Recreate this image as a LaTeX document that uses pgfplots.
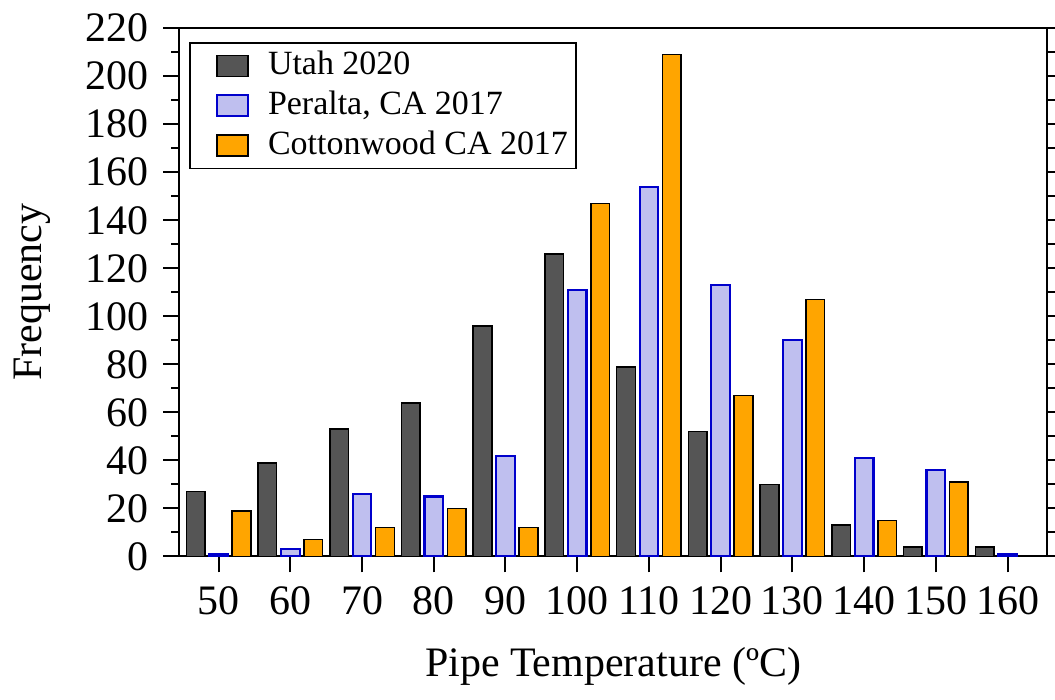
\documentclass[border=0pt]{standalone}
\usepackage{fontspec}
\setmainfont{Liberation Serif}
\usepackage{pgfplots}
\pgfplotsset{compat=1.18}
\definecolor{utah}{HTML}{555555}
\definecolor{peralta}{HTML}{BFBFEF}
\definecolor{peraltaedge}{HTML}{0000CC}
\definecolor{cotton}{HTML}{FFA500}
\begin{document}
\fontsize{21}{25}\selectfont
\begin{tikzpicture}[trim right=(R)]
\begin{axis}[
  scale only axis, width=434.5pt, height=264.5pt,
  xmin=44.5, xmax=165.5, ymin=0, ymax=220,
  axis line style={line width=1pt},
  every tick/.style={line width=1pt, black},
  xtick={50,60,...,160},
  ytick={0,20,...,220}, minor y tick num=1,
  tick align=outside,
  xtick pos=bottom, ytick pos=both,
  major tick length=8pt, minor tick length=4pt,
  /pgf/number format/assume math mode=true,
  tick label style={font=\fontsize{21}{25}\selectfont},
  xlabel={Pipe Temperature (ºC)},
  ylabel={Frequency},
  label style={font=\fontsize{21}{25}\selectfont},
  xlabel style={yshift=-2pt},
  ylabel style={yshift=3.5pt},
  legend cell align=left,
  legend style={at={(0,1)}, anchor=north west, xshift=5pt, yshift=-7pt,
    draw=black, line width=0.8pt, font=\fontsize{17}{20}\selectfont,
    inner xsep=2pt, inner ysep=2pt, row sep=1pt},
  legend image code/.code={\draw[#1, line width=0.8pt] (11pt,-5.25pt) rectangle (26.5pt,5.25pt); \path (0pt,0pt) (34pt,0pt);},
]
\addplot[ybar, bar width=2.6, bar shift=-3.2, fill=utah, draw=black, line width=0.8pt] coordinates {
(50,27) (60,39) (70,53) (80,64) (90,96) (100,126) (110,79) (120,52) (130,30) (140,13) (150,4) (160,4)};
\addlegendentry{Utah 2020}
\addplot[ybar, bar width=2.6, bar shift=0, fill=peralta, draw=peraltaedge, line width=1.1pt] coordinates {
(50,1) (60,3) (70,26) (80,25) (90,42) (100,111) (110,154) (120,113) (130,90) (140,41) (150,36) (160,1)};
\addlegendentry{Peralta, CA 2017}
\addplot[ybar, bar width=2.6, bar shift=3.2, fill=cotton, draw=black, line width=0.8pt] coordinates {
(50,19) (60,7) (70,12) (80,20) (90,12) (100,147) (110,209) (120,67) (130,107) (140,15) (150,31)};
\addlegendentry{Cottonwood CA 2017}
\end{axis}
\coordinate (R) at ([xshift=4pt]current axis.south east);
\end{tikzpicture}
\end{document}
